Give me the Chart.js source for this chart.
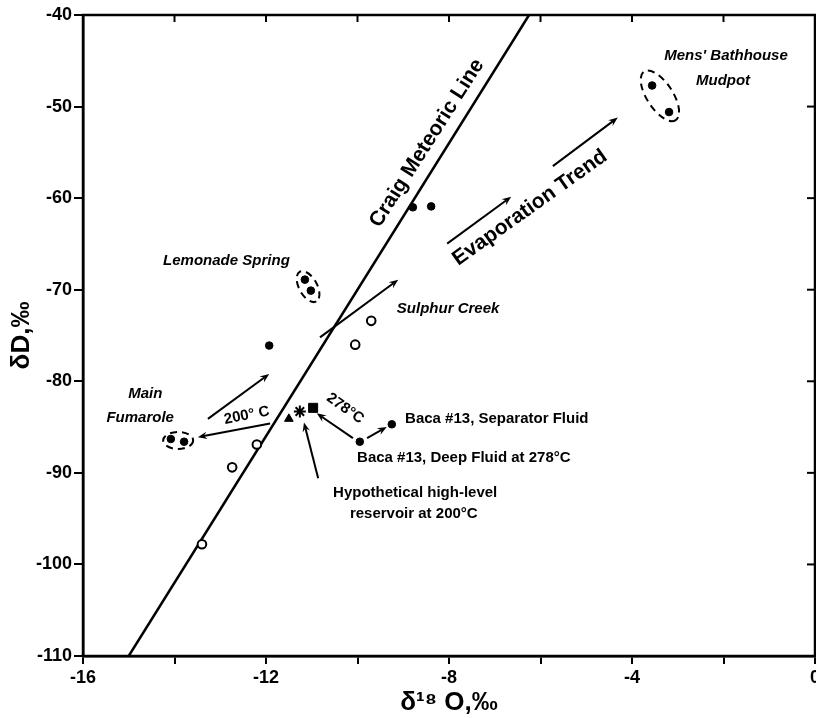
<!DOCTYPE html>
<html lang="en">
<head>
<meta charset="UTF-8">
<title>δD vs δ18O</title>
<script src="https://cdn.jsdelivr.net/npm/chart.js@4.4.0/dist/chart.umd.min.js"></script>
<style>
    body { margin: 0; background: #fff; }
    canvas { display: block; }
</style>
</head>
<body>
<canvas id="isoChart" width="816" height="718"></canvas>
<script>
    // samples (δ18O, δD)
    const filledX = [-11.93, -11.15, -11.02, -14.08, -13.79, -9.25, -9.95, -8.79, -8.39, -3.56, -3.19];
    const filledY = [-76.1, -68.9, -70.1, -86.3, -86.6, -84.7, -86.6, -61.0, -60.9, -47.7, -50.6];
    const openX = [-9.70, -10.05, -12.20, -12.74, -13.40];
    const openY = [-73.4, -76.0, -86.9, -89.4, -97.8];
    const triangleX = [-11.50];
    const triangleY = [-84.1];
    const starX = [-11.26];
    const starY = [-83.3];
    const squareX = [-10.97];
    const squareY = [-82.9];

    // Craig meteoric line end points
    const craigX = [-15, -6.25];
    const craigY = [-110, -40];

    // arrows (from -> to)
    const arrowFromX = [-11.91, -13.27, -10.10, -9.79, -10.82, -10.86, -8.04, -5.73];
    const arrowFromY = [-84.6, -84.1, -86.2, -86.2, -75.2, -90.6, -64.97, -56.5];
    const arrowToX = [-13.49, -11.93, -10.89, -9.36, -9.11, -11.17, -6.64, -4.31];
    const arrowToY = [-86.1, -79.2, -83.5, -85.0, -68.9, -84.5, -59.85, -51.2];

    // dashed groupings
    const groupX = [-13.92, -11.08, -3.39];
    const groupY = [-86.46, -69.66, -48.83];

    // text notes
    const noteText = ['Craig Meteoric Line', 'Evaporation Trend', 'Lemonade Spring', 'Sulphur Creek',
        'Main', 'Fumarole', "Mens' Bathhouse", 'Mudpot', '200° C', '278°C',
        'Baca #13, Separator Fluid', 'Baca #13, Deep Fluid at 278°C',
        'Hypothetical high-level', 'reservoir at 200°C'];
    const noteX = [-8.48, -6.23, -11.48, -8.02, -14.64, -14.75, -1.945, -2.01, -12.42, -10.27, -8.96, -10.01, -8.74, -8.77];
    const noteY = [-54.0, -61.05, -66.8, -72.06, -81.33, -83.95, -44.47, -47.2, -83.73, -82.97, -84.06, -88.31, -92.13, -94.53];

    const xTicks = { min: -16, max: 0, step: 2 };
    const yTicks = { min: -110, max: -40, step: 10 };

    const FONT = "'Liberation Sans', Arial, sans-serif";
    const NARROW = "'Liberation Sans Narrow', 'Liberation Sans', Arial, sans-serif";
    const boldItalic = 'italic bold 15px ' + FONT;
    const bold = 'bold 15px ' + FONT;
    const noteStyle = [
        { rot: -57.5, align: 'center', font: 'bold 21px ' + FONT },
        { rot: -35.5, align: 'center', font: 'bold 21px ' + FONT },
        { rot: 0, align: 'right', font: boldItalic },
        { rot: 0, align: 'center', font: boldItalic },
        { rot: 0, align: 'center', font: boldItalic },
        { rot: 0, align: 'center', font: boldItalic },
        { rot: 0, align: 'center', font: boldItalic },
        { rot: 0, align: 'center', font: boldItalic },
        { rot: -11, align: 'center', font: bold },
        { rot: 35, align: 'center', font: bold },
        { rot: 0, align: 'left', font: bold },
        { rot: 0, align: 'left', font: bold },
        { rot: 0, align: 'center', font: bold },
        { rot: 0, align: 'center', font: bold }
    ];
    // ellipse size in px: rx, ry, rotation (deg)
    const groupShape = [[15, 8.5, 0], [17, 9, 61], [29, 13, 57]];

    const pts = (xs, ys) => xs.map((x, i) => ({ x: x, y: ys[i] }));

    const extras = {
        id: 'extras',
        afterDatasetsDraw(chart) {
            const { ctx, scales: { x, y } } = chart;
            ctx.save();
            ctx.strokeStyle = '#000';
            ctx.fillStyle = '#000';

            // arrows
            ctx.lineWidth = 2;
            for (let i = 0; i < arrowFromX.length; i++) {
                const x1 = x.getPixelForValue(arrowFromX[i]), y1 = y.getPixelForValue(arrowFromY[i]);
                const x2 = x.getPixelForValue(arrowToX[i]), y2 = y.getPixelForValue(arrowToY[i]);
                const a = Math.atan2(y2 - y1, x2 - x1);
                const h = 10;
                ctx.beginPath();
                ctx.moveTo(x1, y1);
                ctx.lineTo(x2 - Math.cos(a) * h * 0.6, y2 - Math.sin(a) * h * 0.6);
                ctx.stroke();
                ctx.beginPath();
                ctx.moveTo(x2, y2);
                ctx.lineTo(x2 - h * Math.cos(a - 0.38), y2 - h * Math.sin(a - 0.38));
                ctx.lineTo(x2 - h * 0.6 * Math.cos(a), y2 - h * 0.6 * Math.sin(a));
                ctx.lineTo(x2 - h * Math.cos(a + 0.38), y2 - h * Math.sin(a + 0.38));
                ctx.closePath();
                ctx.fill();
            }

            // dashed ellipses
            ctx.setLineDash([7, 5]);
            ctx.lineWidth = 2;
            for (let i = 0; i < groupX.length; i++) {
                const [rx, ry, r] = groupShape[i];
                ctx.beginPath();
                ctx.ellipse(x.getPixelForValue(groupX[i]), y.getPixelForValue(groupY[i]), rx, ry, r * Math.PI / 180, 0, Math.PI * 2);
                ctx.stroke();
            }
            ctx.setLineDash([]);

            // notes
            ctx.textBaseline = 'middle';
            for (let i = 0; i < noteText.length; i++) {
                const s = noteStyle[i];
                ctx.save();
                ctx.translate(x.getPixelForValue(noteX[i]), y.getPixelForValue(noteY[i]));
                ctx.rotate(s.rot * Math.PI / 180);
                ctx.font = s.font;
                ctx.textAlign = s.align;
                ctx.fillText(noteText[i], 0, 0);
                ctx.restore();
            }
            ctx.restore();
        },
        afterDraw(chart) {
            const { ctx, chartArea: a, scales: { x, y } } = chart;
            ctx.save();
            ctx.strokeStyle = '#000';
            ctx.lineWidth = 2.5;
            ctx.strokeRect(a.left, a.top, a.right - a.left, a.bottom - a.top);
            // inward ticks on top and right
            ctx.lineWidth = 2;
            x.ticks.forEach(t => {
                const px = x.getPixelForValue(t.value);
                ctx.beginPath();
                ctx.moveTo(px, a.top);
                ctx.lineTo(px, a.top + 7);
                ctx.stroke();
            });
            y.ticks.forEach(t => {
                const py = y.getPixelForValue(t.value);
                ctx.beginPath();
                ctx.moveTo(a.right, py);
                ctx.lineTo(a.right - 8, py);
                ctx.stroke();
            });
            ctx.restore();
        }
    };

    new Chart(document.getElementById('isoChart'), {
        type: 'scatter',
        data: {
            datasets: [
                {
                    label: 'Craig Meteoric Line',
                    data: pts(craigX, craigY),
                    showLine: true,
                    borderColor: '#000',
                    borderWidth: 2.5,
                    pointRadius: 0,
                    order: 10
                },
                {
                    label: 'filled',
                    data: pts(filledX, filledY),
                    backgroundColor: '#000',
                    borderColor: '#000',
                    borderWidth: 1,
                    pointRadius: 3.8,
                    order: 1
                },
                {
                    label: 'open',
                    data: pts(openX, openY),
                    backgroundColor: '#fff',
                    borderColor: '#000',
                    borderWidth: 2,
                    pointRadius: 4.3,
                    order: 1
                },
                {
                    label: 'triangle',
                    data: pts(triangleX, triangleY),
                    pointStyle: 'triangle',
                    backgroundColor: '#000',
                    borderColor: '#000',
                    pointRadius: 5,
                    order: 1
                },
                {
                    label: 'star',
                    data: pts(starX, starY),
                    pointStyle: 'star',
                    borderColor: '#000',
                    borderWidth: 2,
                    pointRadius: 6,
                    order: 1
                },
                {
                    label: 'square',
                    data: pts(squareX, squareY),
                    pointStyle: 'rect',
                    backgroundColor: '#000',
                    borderColor: '#000',
                    pointRadius: 6.4,
                    order: 1
                }
            ]
        },
        options: {
            responsive: false,
            animation: false,
            layout: { autoPadding: false, padding: { top: 15, right: 1, left: 0, bottom: 0 } },
            plugins: {
                legend: { display: false },
                tooltip: { enabled: false }
            },
            scales: {
                x: {
                    type: 'linear',
                    position: 'bottom',
                    min: xTicks.min,
                    max: xTicks.max,
                    afterFit: s => { s.height = 62; s.paddingLeft = 0; s.paddingRight = 0; },
                    ticks: {
                        stepSize: xTicks.step,
                        autoSkip: false,
                        maxRotation: 0,
                        padding: 3,
                        color: '#000',
                        font: { family: NARROW, size: 18, weight: 'bold' },
                        callback: v => (v % 4 === 0 ? v : '')
                    },
                    grid: { drawOnChartArea: false, drawTicks: true, tickLength: 8, color: '#000', lineWidth: 2 },
                    border: { color: '#000', width: 2.5 },
                    title: {
                        display: true,
                        text: 'δ¹⁸ O,‰',
                        color: '#000',
                        font: { family: FONT, size: 26, weight: 'bold' },
                        padding: { top: 0, bottom: 0 }
                    }
                },
                y: {
                    type: 'linear',
                    min: yTicks.min,
                    max: yTicks.max,
                    afterFit: s => { s.width = 83; s.paddingTop = 0; s.paddingBottom = 0; },
                    ticks: {
                        stepSize: yTicks.step,
                        padding: 2,
                        color: '#000',
                        font: { family: NARROW, size: 18, weight: 'bold' }
                    },
                    grid: { drawOnChartArea: false, drawTicks: true, tickLength: 9, color: '#000', lineWidth: 2 },
                    border: { color: '#000', width: 2.5 },
                    title: {
                        display: true,
                        text: 'δD,‰',
                        color: '#000',
                        font: { family: FONT, size: 26, weight: 'bold' },
                        padding: { top: 6, bottom: 0 }
                    }
                }
            }
        },
        plugins: [extras]
    });
</script>
</body>
</html>
